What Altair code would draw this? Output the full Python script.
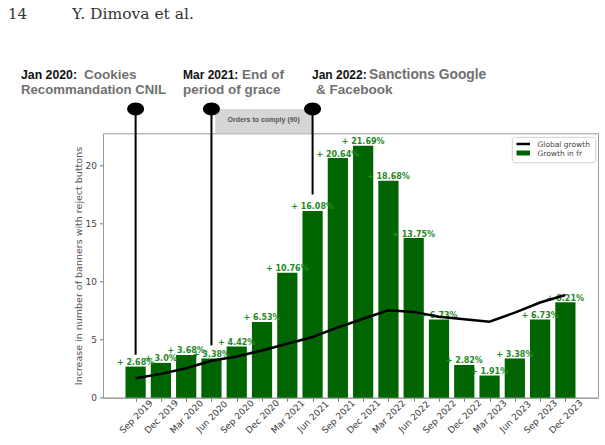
import altair as alt
import pandas as pd

# ---------------- data ----------------
quarters = ["Sep 2019", "Dec 2019", "Mar 2020", "Jun 2020", "Sep 2020", "Dec 2020",
            "Mar 2021", "Jun 2021", "Sep 2021", "Dec 2021", "Mar 2022", "Jun 2022",
            "Sep 2022", "Dec 2022", "Mar 2023", "Jun 2023", "Sep 2023", "Dec 2023"]
fr_growth = [2.68, 3.0, 3.68, 3.38, 4.42, 6.53, 10.76, 16.08, 20.64, 21.69,
             18.68, 13.75, 6.73, 2.82, 1.91, 3.38, 6.73, 8.21]
fr_labels = ["+ 2.68%", "+ 3.0%", "+ 3.68%", "+ 3.38%", "+ 4.42%", "+ 6.53%",
             "+ 10.76%", "+ 16.08%", "+ 20.64%", "+ 21.69%", "+ 18.68%", "+ 13.75%",
             "+ 6.73%", "+ 2.82%", "+ 1.91%", "+ 3.38%", "+ 6.73%", "+ 8.21%"]
global_growth = [1.68, 2.05, 2.54, 3.18, 3.55, 4.07, 4.65, 5.23, 6.05, 6.8,
                 7.53, 7.39, 6.98, 6.75, 6.55, 7.33, 8.2, 8.85]
y_ticks = [0, 5, 10, 15, 20]

event_idx = [0, 3, 7]
event_low = [3.7, 4.5, 17.5]
event_top = [24.87, 24.87, 24.87]

box_from, box_to = 3.15, 6.98
box_text = "Orders to comply (90)"

legend_items = ["Global growth", "Growth in fr"]

df = pd.DataFrame({"idx": list(range(len(quarters))), "quarter": quarters,
                   "fr": fr_growth, "label": fr_labels, "glob": global_growth})
ev = pd.DataFrame({"idx": event_idx, "low": event_low, "top": event_top})

# ---------------- layout ----------------
W, H = 495, 264.4
LEFT, TOP = 103, 133.3
Y_MAX = 22.77

x_scale = alt.Scale(domain=[-1.29, 18.29], nice=False, zero=False)
y_scale = alt.Scale(domain=[0, Y_MAX], nice=False, zero=False)

label_expr = "[" + ",".join("'%s'" % q for q in quarters) + "][datum.value]"

x_axis = alt.Axis(values=list(range(len(quarters))), labelExpr=label_expr,
                  labelAngle=-45, labelAlign="center", labelBaseline="middle",
                  labelPadding=15, tickSize=3.5, grid=False, title=None,
                  labelFlush=False, labelOverlap=False, labelBound=False,
                  domainColor="#999", tickColor="#777", labelColor="#3a3a3a",
                  labelFontSize=9, labelFont="DejaVu Sans")
y_axis = alt.Axis(values=y_ticks, tickSize=3.5, grid=False, labelPadding=3,
                  domainColor="#999", tickColor="#777", labelColor="#444",
                  labelFontSize=9, labelFont="DejaVu Sans",
                  title="Increase in number of banners with reject buttons",
                  titleX=-25, titleY=H / 2, titleAngle=-90, titleAlign="center",
                  titleBaseline="middle", titleFontSize=9.5, titleFontWeight="normal",
                  titleColor="#555", titleFont="DejaVu Sans")

X = lambda f: alt.X(f, scale=x_scale, axis=x_axis)
Y = lambda f: alt.Y(f, scale=y_scale, axis=y_axis)

base = alt.Chart(df)

box = alt.Chart(pd.DataFrame({"a": [box_from], "b": [box_to], "c": [Y_MAX], "d": [event_top[0]]})).mark_rect(
    color="#d6d6d6").encode(x=X("a:Q"), x2="b:Q", y=Y("c:Q"), y2="d:Q")

bars = base.transform_calculate(x0="datum.idx - 0.4", x1="datum.idx + 0.4").mark_bar(
    color="#006400").encode(x=X("x0:Q"), x2="x1:Q", y=Y("fr:Q"), y2=alt.datum(0))

labels = base.mark_text(font="DejaVu Sans", fontSize=8, fontWeight="bold", color="#1f8a1f",
                        baseline="alphabetic", dy=-1.5).encode(
    x=X("idx:Q"), y=Y("fr:Q"), text="label:N")

line = base.mark_line(color="black", strokeWidth=2.5).encode(x=X("idx:Q"), y=Y("glob:Q"))

rules = alt.Chart(ev).mark_rule(color="black", strokeWidth=2).encode(
    x=X("idx:Q"), y=Y("top:Q"), y2="low:Q")

ellipse = "M -1 0 A 1 0.76 0 1 1 1 0 A 1 0.76 0 1 1 -1 0 Z"
dots = alt.Chart(ev).mark_point(shape=ellipse, size=289, filled=True, color="black",
                                opacity=1).encode(x=X("idx:Q"), y=Y("top:Q"))

box_label = alt.Chart(pd.DataFrame({"a": [(box_from + box_to) / 2], "b": [23.95], "t": [box_text]})).mark_text(
    font="Liberation Sans", fontSize=7, fontWeight="bold", color="#555").encode(
    x=X("a:Q"), y=Y("b:Q"), text="t:N")

one = pd.DataFrame({"z": [0]})


def txt(s, px, py, size, color, weight="normal", font="Liberation Sans", align="left"):
    return alt.Chart(one).mark_text(font=font, fontSize=size, fontWeight=weight, color=color,
                                    align=align, baseline="alphabetic").encode(
        x=alt.value(px - LEFT), y=alt.value(py - TOP), text=alt.value(s))


# legend
leg_box = alt.Chart(one).mark_rect(fill="white", stroke="#d0d0d0", strokeWidth=1, cornerRadius=2).encode(
    x=alt.value(512.3 - LEFT), x2=alt.value(595.7 - LEFT), y=alt.value(137.3 - TOP), y2=alt.value(162.7 - TOP))
leg_line = alt.Chart(one).mark_rule(color="black", strokeWidth=2.5).encode(
    x=alt.value(516.5 - LEFT), x2=alt.value(530 - LEFT), y=alt.value(144 - TOP))
leg_sq = alt.Chart(one).mark_rect(color="#006400").encode(
    x=alt.value(516.5 - LEFT), x2=alt.value(530 - LEFT), y=alt.value(150.5 - TOP), y2=alt.value(155.5 - TOP))
leg_t1 = txt(legend_items[0], 537.5, 146.7, 7.5, "#444", font="DejaVu Sans")
leg_t2 = txt(legend_items[1], 537.5, 155.7, 7.5, "#444", font="DejaVu Sans")

BLACK, GREY = "#111", "#707070"
L1, L2 = 79, 93.5
texts = [
    txt("14", 8, 18.5, 15, "#333", font="DejaVu Serif"),
    txt("Y. Dimova et al.", 72, 18.5, 15.5, "#333", font="DejaVu Serif"),
    txt("Jan 2020:", 21, L1, 12.3, BLACK, "bold"),
    txt("Cookies", 84, L1, 13.5, GREY, "bold"),
    txt("Recommandation CNIL", 21, L2, 13.2, GREY, "bold"),
    txt("Mar 2021:", 183, L1, 12, BLACK, "bold"),
    txt("End of", 242, L1, 13.5, GREY, "bold"),
    txt("period of grace", 183, L2, 13.5, GREY, "bold"),
    txt("Jan 2022:", 312, L1, 12, BLACK, "bold"),
    txt("Sanctions Google", 369, L1, 13.8, GREY, "bold"),
    txt("& Facebook", 316, L2, 13.5, GREY, "bold"),
]

chart = alt.layer(box, bars, labels, line, rules, dots, box_label,
                  leg_box, leg_line, leg_sq, leg_t1, leg_t2, *texts).properties(
    width=W, height=H,
    autosize=alt.AutoSizeParams(type="none"),
    padding={"left": LEFT, "top": TOP, "right": 605 - LEFT - W, "bottom": 445 - TOP - H},
    background="white",
).configure_view(stroke="#999", strokeWidth=1)

chart.save("out.html", embed_options={"renderer": "svg", "actions": False})
